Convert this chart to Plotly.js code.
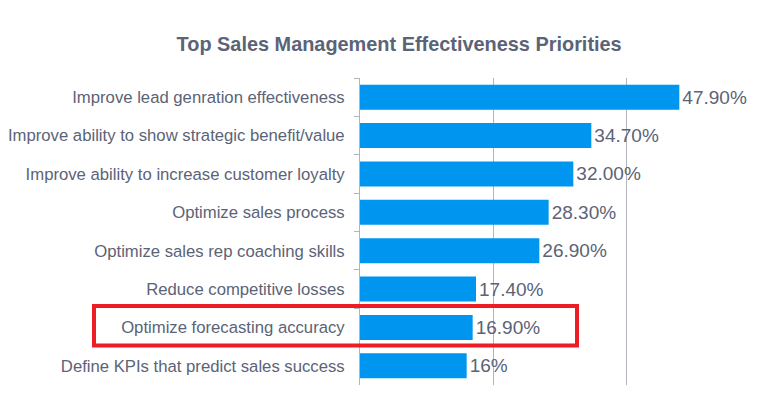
<!DOCTYPE html>
<html>
<head>
<meta charset="utf-8">
<script src="https://cdn.plot.ly/plotly-3.0.1.min.js"></script>
<style>html,body{margin:0;padding:0;background:#fff;}#chart{width:775px;height:394px;}</style>
</head>
<body>
<div id="chart"></div>
<script>
const categories = [
  "Improve lead genration effectiveness",
  "Improve ability to show strategic benefit/value",
  "Improve ability to increase customer loyalty",
  "Optimize sales process",
  "Optimize sales rep coaching skills",
  "Reduce competitive losses",
  "Optimize forecasting accuracy",
  "Define KPIs that predict sales success"
];
const values = [47.9, 34.7, 32.0, 28.3, 26.9, 17.4, 16.9, 16];
const valueLabels = ["47.90%", "34.70%", "32.00%", "28.30%", "26.90%", "17.40%", "16.90%", "16%"];
const highlighted = "Optimize forecasting accuracy";

const hi = categories.indexOf(highlighted);
const textColor = "#5b6377";
const axisColor = "#b4b4bc";

const trace = {
  type: "bar",
  orientation: "h",
  x: values,
  y: categories,
  text: valueLabels,
  textposition: "outside",
  cliponaxis: false,
  textfont: {family: "Liberation Sans, Arial, sans-serif", size: 19, color: textColor},
  marker: {color: "#0096f0"},
  hoverinfo: "skip"
};

const layout = {
  width: 775,
  height: 394,
  margin: {l: 360, r: 25, t: 78, b: 9},
  paper_bgcolor: "#ffffff",
  plot_bgcolor: "#ffffff",
  bargap: 0.35,
  showlegend: false,
  title: {
    text: "<b>Top Sales Management Effectiveness Priorities</b>",
    font: {family: "Liberation Sans, Arial, sans-serif", size: 19.9, color: textColor},
    x: 0.515, xanchor: "center", xref: "container",
    y: 1 - 44/394, yanchor: "middle", yref: "container"
  },
  xaxis: {
    range: [0, 58.5],
    showticklabels: false,
    showgrid: true,
    gridcolor: axisColor,
    gridwidth: 1,
    dtick: 20,
    tick0: 0,
    zeroline: false,
    showline: false,
    ticks: "",
    fixedrange: true
  },
  yaxis: {
    type: "category",
    autorange: "reversed",
    showline: true,
    linecolor: axisColor,
    linewidth: 1,
    ticks: "outside",
    tickson: "boundaries",
    ticklen: 5,
    tickcolor: axisColor,
    ticklabelstandoff: 11,
    tickfont: {family: "Liberation Sans, Arial, sans-serif", size: 16.7, color: textColor},
    showgrid: false,
    zeroline: false,
    fixedrange: true
  },
  shapes: [{
    type: "rect",
    xref: "paper",
    yref: "y",
    x0: (94 - 360) / 390,
    x1: (577 - 360) / 390,
    y0: hi - 0.56,
    y1: hi + 0.47,
    line: {color: "#ee1c25", width: 4},
    fillcolor: "rgba(0,0,0,0)",
    layer: "above"
  }]
};

Plotly.newPlot("chart", [trace], layout, {displayModeBar: false, staticPlot: true});
</script>
</body>
</html>
